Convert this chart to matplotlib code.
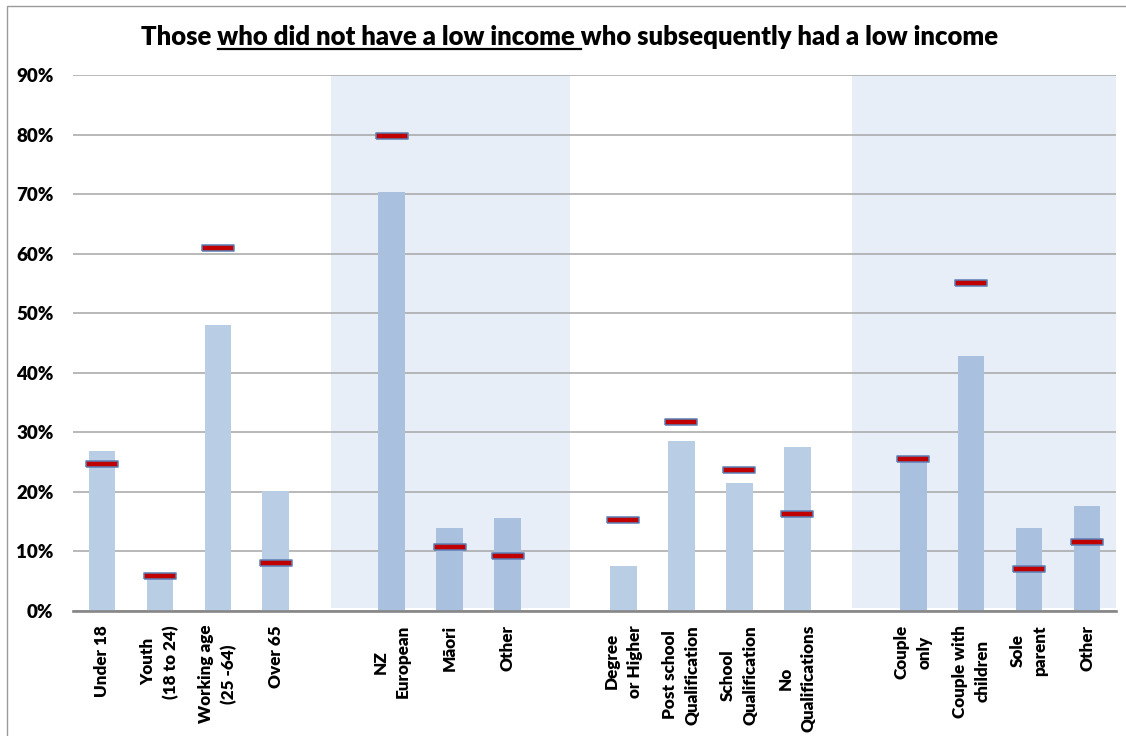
import matplotlib
matplotlib.use("Agg")
import matplotlib.pyplot as plt
from matplotlib.patches import Rectangle
from matplotlib.lines import Line2D
from matplotlib.ticker import FuncFormatter, MultipleLocator

# ---- data -------------------------------------------------------------
categories = [
    "Under 18", "Youth\n(18 to 24)", "Working age\n(25 -64)", "Over 65",
    "NZ\nEuropean", "Māori", "Other",
    "Degree\nor Higher", "Post school\nQualification", "School\nQualification", "No\nQualifications",
    "Couple\nonly", "Couple with\nchildren", "Sole\nparent", "Other",
]
group_sizes = [4, 3, 4, 4]          # age, ethnicity, qualification, family type
shaded_groups = [1, 3]
# share of those who did not have a low income who subsequently had one (%)
bar_values = [26.8, 5.6, 48.1, 20.2,
              70.4, 14.0, 15.6,
              7.6, 28.5, 21.5, 27.6,
              25.3, 42.8, 13.9, 17.6]
# share of the whole population in each category (%)
marker_values = [24.6, 5.9, 61.0, 8.0,
                 79.7, 10.8, 9.2,
                 15.2, 31.7, 23.7, 16.3,
                 25.6, 55.0, 7.1, 11.6]
title_parts = ["Those ", "who did not have a low income", " who subsequently had a low income"]

# ---- layout -----------------------------------------------------------
W, H, DPI = 1126, 736, 100
plt.rcParams["font.family"] = ["Lato", "DejaVu Sans"]
plt.rcParams["font.weight"] = "bold"

fig = plt.figure(figsize=(W / DPI, H / DPI), dpi=DPI)
fig.patch.set_facecolor("white")
ax = fig.add_axes([73 / W, 1 - 611 / H, (1116 - 73) / W, (611 - 75) / H])

# x positions with a one-slot gap between groups
positions, group_of = [], []
slot = 0
for g, n in enumerate(group_sizes):
    for _ in range(n):
        positions.append(slot)
        group_of.append(g)
        slot += 1
    slot += 1

xmin, xmax = -0.5, positions[-1] + 0.5
ax.set_xlim(xmin, xmax)
ax.set_ylim(0, 0.9)

# shaded bands behind the ethnicity and family-type groups
start = 0
for g, n in enumerate(group_sizes):
    if g in shaded_groups:
        left = positions[start] - 1.05
        right = min(positions[start + n - 1] + 1.07, xmax)
        ax.axvspan(left, right, ymin=0.006, ymax=1.0, facecolor="#e8eef7",
                   edgecolor="none", zorder=0.2)
    start += n

bar_colors = ["#a9c1df" if g in shaded_groups else "#b9cde5" for g in group_of]
ax.bar(positions, [v / 100 for v in bar_values], width=0.46, color=bar_colors,
       edgecolor="none", zorder=2)

# red dash markers
dash = [(-1, -0.21), (1, -0.21), (1, 0.21), (-1, 0.21), (-1, -0.21)]
ax.plot(positions, [v / 100 for v in marker_values], linestyle="none",
        marker=dash, markersize=22.5, markerfacecolor="#c00000",
        markeredgecolor="#5b7fb5", markeredgewidth=1.1, zorder=3)

# axes styling
ax.yaxis.set_major_locator(MultipleLocator(0.1))
ax.yaxis.set_major_formatter(FuncFormatter(lambda v, p: f"{v * 100:.0f}%"))
ax.grid(axis="y", color="#a6a6a6", linewidth=1.1, zorder=0.5)
ax.set_axisbelow(True)
for s in ["top", "right", "left"]:
    ax.spines[s].set_visible(False)
ax.spines["bottom"].set_color("#868686")
ax.spines["bottom"].set_linewidth(1.9)
ax.spines["bottom"].set_zorder(4)
ax.tick_params(axis="y", length=0, pad=14, labelsize=13.5)
ax.tick_params(axis="x", length=0, pad=10)
for lbl in ax.get_yticklabels():
    lbl.set_fontweight("heavy")

ax.set_xticks(positions)
ax.set_xticklabels(categories, rotation=90, ha="center", va="top",
                   multialignment="center", fontsize=12.3, fontweight="heavy",
                   linespacing=1.5)

# outer chart frame
fig.add_artist(Rectangle((7 / W, -0.05), 1.2, 1 - 6 / H + 0.05,
                         transform=fig.transFigure, fill=False,
                         edgecolor="#9a9a9a", linewidth=1.0))

# title with an underlined middle phrase
fig.canvas.draw()
renderer = fig.canvas.get_renderer()
title_kw = dict(fontsize=17, fontweight="heavy", color="black")


def text_width(s, **kw):
    t = fig.text(0, 0, s, **kw)
    w = t.get_window_extent(renderer).width
    t.remove()
    return w


full = "".join(title_parts)
target = 860.0
title_kw["fontsize"] *= target / text_width(full, **title_kw)
full_w = text_width(full, **title_kw)
x0 = 570 - full_w / 2
base_y = 45
fig.text(x0 / W, 1 - base_y / H, full, ha="left", va="baseline", **title_kw)

ref_w = text_width("x", **title_kw)
u_start = x0 + text_width(title_parts[0] + "x", **title_kw) - ref_w
u_end = x0 + text_width(title_parts[0] + title_parts[1] + " x", **title_kw) - ref_w
fig.add_artist(Line2D([u_start / W, u_end / W], [1 - (base_y + 4) / H] * 2,
                      transform=fig.transFigure, color="black", linewidth=1.6))

fig.savefig("out.png", dpi=DPI)
